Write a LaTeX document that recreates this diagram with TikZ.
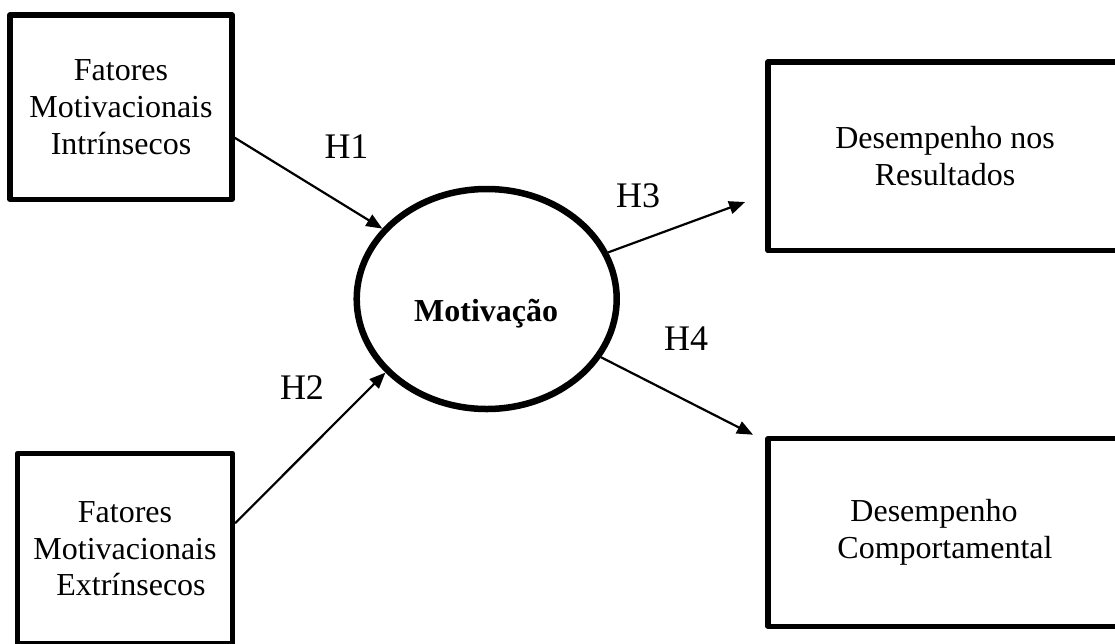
\documentclass[tikz,border=0pt]{standalone}
\usepackage{fontspec}
\setmainfont{Liberation Serif}
\usetikzlibrary{arrows.meta,shapes.geometric}

\begin{document}
\begin{tikzpicture}[x=1pt, y=-1pt,
  box/.style={draw, line width=5.3pt, line join=round, rectangle, inner sep=0pt,
    align=center, font=\fontsize{32}{36.8}\selectfont},
  construct/.style={draw, ellipse, line width=6.5pt, inner sep=0pt,
    minimum width=260pt, minimum height=220pt},
  hlabel/.style={anchor=base, inner sep=0pt, font=\fontsize{36}{40}\selectfont},
  arr/.style={line width=2.2pt, -{Triangle[length=16pt,width=13pt]}}
]
  % canvas
  \useasboundingbox (0,0) rectangle (1115,643);
  \fill[white] (0,0) rectangle (1115,643);
  \clip (0,0) rectangle (1115,643);

  % antecedent factors
  \node[box, minimum width=222pt, minimum height=184.5pt] (b1) at (121,107.25)
    {Fatores\\Motivacionais\\Intrínsecos};
  \node[box, minimum width=215pt, minimum height=190.7pt] (b2) at (125,548.7)
    {Fatores\\Motivacionais\\\hspace*{12pt}Extrínsecos};

  % central construct
  \node[construct] (mot) at (486.7,299) {};
  \node[anchor=base, inner sep=0pt, font=\fontsize{32}{36.8}\selectfont\bfseries]
    (motlbl) at (486.2,321) {Motivação};

  % outcomes
  \node[box, minimum width=354pt, minimum height=188.8pt] (b3) at (945,156.4)
    {Desempenho nos\\Resultados};
  \node[box, minimum width=354pt, minimum height=187.4pt] (b4) at (945,532.5)
    {Desempenho\hspace*{22pt}\\Comportamental};

  % hypotheses
  \draw[arr] (b1.-15.14) -- (mot.146.7);
  \draw[arr] (b2.13.6) -- (mot.216.7);
  \draw[arr, shorten >=21.6pt] (mot.21.7) -- (b3.192.05);
  \draw[arr, shorten >=13.8pt] (mot.-27.7) -- (b4.153.32);

  \node[hlabel] (h1) at (346.5,158) {H1};
  \node[hlabel] (h2) at (302,399) {H2};
  \node[hlabel] (h3) at (638,207) {H3};
  \node[hlabel] (h4) at (686,350) {H4};
\end{tikzpicture}
\end{document}
